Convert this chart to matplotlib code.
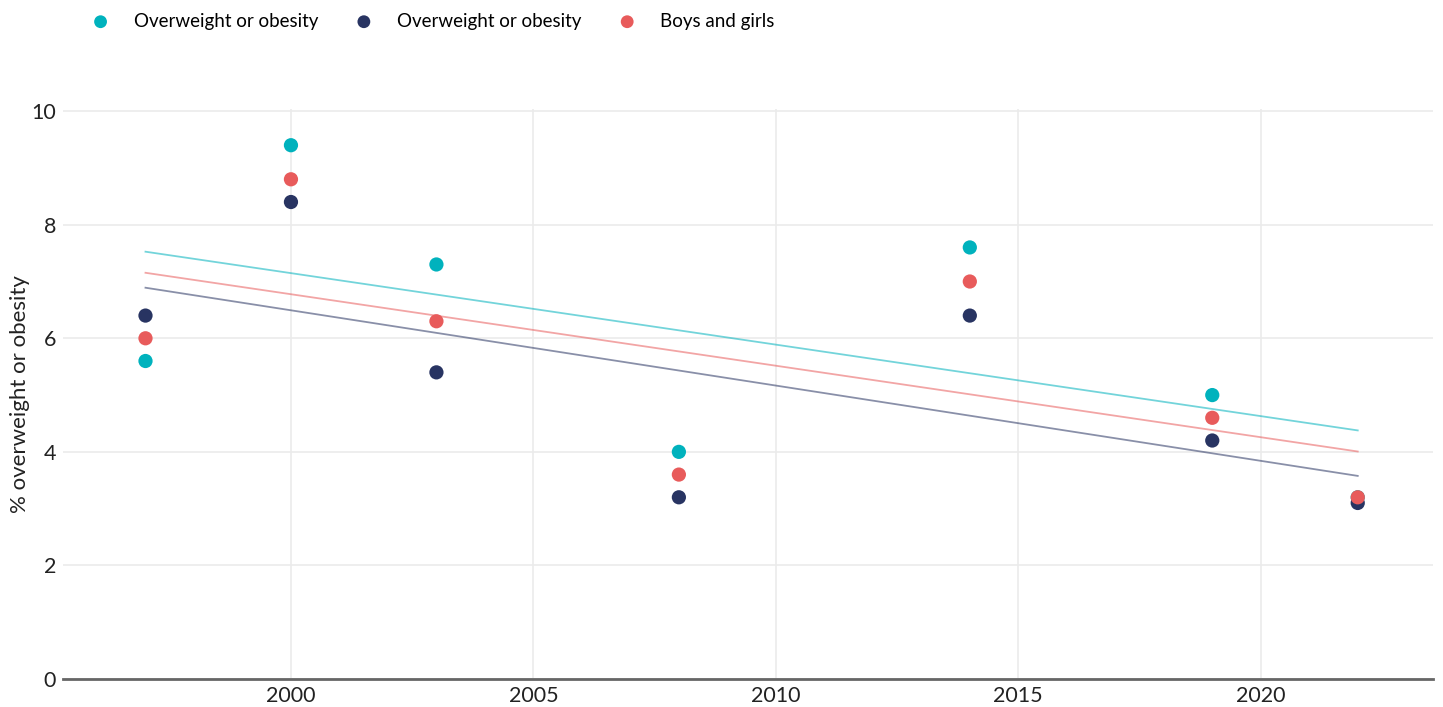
import numpy as np
import matplotlib
matplotlib.use("Agg")
import matplotlib.pyplot as plt

plt.rcParams['font.family'] = ['Lato', 'DejaVu Sans']

years = [1997, 2000, 2003, 2008, 2014, 2019, 2022]
boys = [5.6, 9.4, 7.3, 4.0, 7.6, 5.0, 3.2]
girls = [6.4, 8.4, 5.4, 3.2, 6.4, 4.2, 3.1]
both = [6.0, 8.8, 6.3, 3.6, 7.0, 4.6, 3.2]

series = [
    ("Overweight or obesity", boys, "#00b2bd"),
    ("Overweight or obesity", girls, "#283462"),
    ("Boys and girls", both, "#e85b5b"),
]

fig = plt.figure(figsize=(14.43, 7.07), dpi=100)
ax = fig.add_axes([0.0437, 0.0396, 0.9493, 0.8064])

x = np.array(years)
# trend lines (linear fit)
for label, vals, col in series:
    k, b = np.polyfit(x, vals, 1)
    ax.plot(x[[0, -1]], k * x[[0, -1]] + b, color=col, alpha=0.55, lw=1.3, zorder=2)

handles = []
for label, vals, col in series:
    h = ax.scatter(years, vals, s=105, color=col, label=label, zorder=3, edgecolors='none')
    handles.append(h)

ax.set_xlim(1995.3, 2023.55)
ax.set_ylim(0, 10.04)
ax.set_xticks([2000, 2005, 2010, 2015, 2020])
ax.set_yticks([0, 2, 4, 6, 8, 10])
ax.grid(True, color="#ebebeb", lw=1.2)
ax.set_axisbelow(True)
for s in ['top', 'right', 'left']:
    ax.spines[s].set_visible(False)
ax.spines['bottom'].set_color('#666666')
ax.spines['bottom'].set_linewidth(2)
ax.tick_params(length=0, labelsize=15.5, colors='#222222', pad=5)
ax.set_ylabel("% overweight or obesity", fontsize=16, color='#222222', labelpad=1)

fig.legend(handles, [s[0] for s in series], loc='upper left', bbox_to_anchor=(0.0515, 1.006),
           ncol=3, frameon=False, fontsize=13.5, handlelength=1.0, handletextpad=1.26,
           columnspacing=1.95, markerscale=0.9)

fig.savefig("out.png", dpi=100)
